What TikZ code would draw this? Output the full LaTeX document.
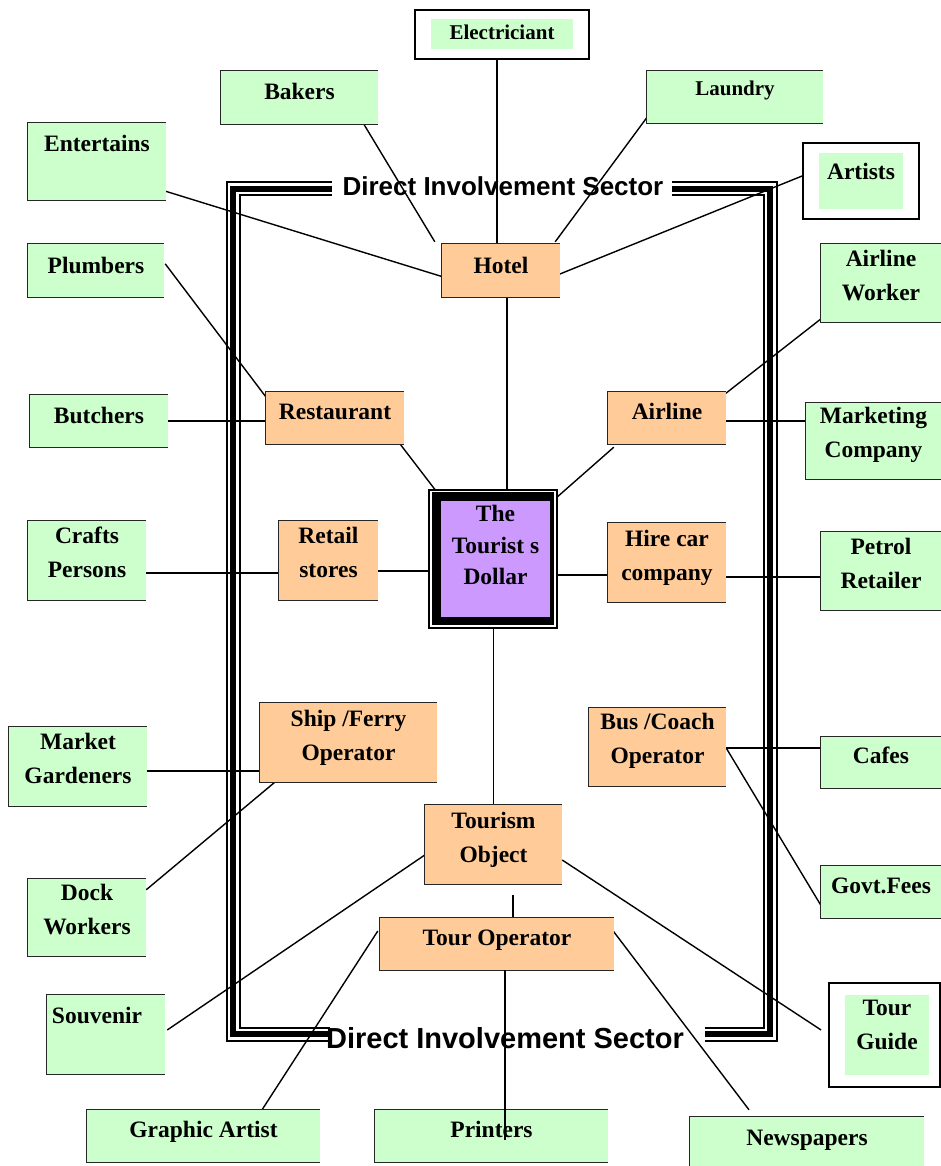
\documentclass[tikz,border=0pt]{standalone}
\usepackage{fontspec}
\setmainfont{Liberation Serif}
\newfontfamily\sectorfont{Liberation Sans}
\pgfdeclarelayer{background}
\pgfsetlayers{background,main}
\definecolor{mint}{HTML}{CCFFCC}
\definecolor{peach}{HTML}{FFCC99}
\definecolor{lilac}{HTML}{CC99FF}
% centred lines of box text, lifted by #1 pt without changing the box size
\newcommand\boxtext[2][5]{\raisebox{#1pt}[\height][\depth]{\begin{tabular}{@{}c@{}}#2\end{tabular}}}
\tikzset{
  sz/.style 2 args={minimum width=#1pt, minimum height=#2pt},
  boxfont/.style={font=\fontsize{23.5}{34}\selectfont\bfseries},
  greenbox/.style={fill=mint, inner sep=0pt, boxfont},
  orangebox/.style={fill=peach, inner sep=0pt, boxfont},
  framebox/.style={draw=black, line width=1.8pt, fill=white, inner sep=0pt},
  rim/.style={draw=black!85, line width=1.2pt},
  conn/.style={draw=black, line width=1.4pt},
  sector/.style={inner sep=0pt, font=\sectorfont\bfseries},
  triple/.style={draw=black, line width=15pt, line join=miter,
    postaction={draw=white, line width=11pt, line join=miter},
    postaction={draw=black, line width=6pt, line join=miter}},
}
\begin{document}
\begin{tikzpicture}[x=1pt, y=-1pt]
\useasboundingbox (0,0) rectangle (941,1166);

% ---- outer ring of suppliers ----
\node[framebox, sz={174}{49}] (elec-frame) at (502,34.5) {};
\node[greenbox, sz={142}{30}, font=\fontsize{21}{30}\selectfont\bfseries] (elec) at (502,34) {\boxtext[0]{Electriciant}};
\node[greenbox, sz={157}{53}] (bakers) at (299.5,97.5) {\boxtext[4.5]{Bakers}};
\node[greenbox, sz={176}{52}, font=\fontsize{21}{30}\selectfont\bfseries] (laundry) at (735,97) {\boxtext[7]{Laundry}};
\node[greenbox, sz={138}{77}] (entert) at (97,161.5) {\boxtext[16.5]{Entertains}};
\node[framebox, sz={116}{76}] (art-frame) at (861,181) {};
\node[greenbox, sz={84}{56}] (art) at (861,181) {\boxtext[8]{Artists}};
\node[greenbox, sz={136}{53}] (plumb) at (96,270.5) {\boxtext[3.5]{Plumbers}};
\node[greenbox, sz={120}{78}] (airw) at (881,283) {\boxtext[6]{Airline\\Worker}};
\node[greenbox, sz={138}{52}] (butch) at (99,421) {\boxtext[4]{Butchers}};
\node[greenbox, sz={135}{76}] (mkt) at (873.5,441) {\boxtext[7]{Marketing\\Company}};
\node[greenbox, sz={118}{79}] (crafts) at (87,560.5) {\boxtext[6.5]{Crafts\\Persons}};
\node[greenbox, sz={120}{78}] (petrol) at (881,571) {\boxtext[6.5]{Petrol\\Retailer}};
\node[greenbox, sz={138}{79}] (mgard) at (78,766.5) {\boxtext[6.5]{Market\\Gardeners}};
\node[greenbox, sz={120}{51}] (cafes) at (881,762.5) {\boxtext[5.5]{Cafes}};
\node[greenbox, sz={120}{52}] (govt) at (881,892) {\boxtext[5]{Govt.Fees}};
\node[greenbox, sz={118}{77}] (dock) at (87,917.5) {\boxtext[6.5]{Dock\\Workers}};
\node[greenbox, sz={118}{79}] (souv) at (106,1034.5) {\boxtext[17.5]{\hspace*{-18pt}Souvenir}};
\node[framebox, sz={111}{104}] (tg-frame) at (884.5,1035) {};
\node[greenbox, sz={84}{80}] (tg) at (887,1035) {\boxtext[9]{Tour\\Guide}};
\node[greenbox, sz={233}{52}] (graph) at (203.5,1136) {\boxtext[5]{Graphic Artist}};
\node[greenbox, sz={233}{52}] (print) at (491.5,1136) {\boxtext[5]{Printers}};
\node[greenbox, sz={234}{52}] (news) at (807,1143) {\boxtext[4]{Newspapers}};

% ---- direct involvement sector ----
\node[orangebox, sz={118}{53}] (hotel) at (501,270.5) {\boxtext[3.5]{Hotel}};
\node[orangebox, sz={138}{52}] (rest) at (335,418) {\boxtext[5]{Restaurant}};
\node[orangebox, sz={118}{52}] (airline) at (667,418) {\boxtext[5]{Airline}};
\node[orangebox, sz={99}{79}] (retail) at (328.5,560.5) {\boxtext[6.5]{Retail\\stores}};
\node[orangebox, sz={118}{79}] (hire) at (667,562.5) {\boxtext[5.5]{Hire car\\company}};
\node[orangebox, sz={177}{79}] (ship) at (348.5,742.5) {\boxtext[6]{Ship /Ferry\\Operator}};
\node[orangebox, sz={137}{78}] (bus) at (657.5,747) {\boxtext[7]{Bus /Coach\\Operator}};
\node[orangebox, sz={137}{79}] (tobj) at (493.5,844.5) {\boxtext[6]{Tourism\\Object}};
\node[orangebox, sz={234}{52}] (tourop) at (497,944) {\boxtext[5]{Tour Operator}};

% ---- centre ----
\node[draw=black, line width=1.2pt, fill=white, sz={128}{138}] (dollar) at (493,559) {};
\fill[black] ([shift={(4,3)}]dollar.north west) rectangle ([shift={(-4,-4)}]dollar.south east);
\node[fill=lilac, inner sep=0pt, sz={109}{116}, font=\fontsize{23.5}{31.5}\selectfont\bfseries]
  (dollar-in) at (495.5,559) {\boxtext[12]{The\\Tourist s\\Dollar}};

% three-sided rims of the plain boxes
\foreach \n in {bakers,laundry,entert,plumb,airw,butch,mkt,crafts,petrol,mgard,cafes,govt,dock,souv,graph,print,news,hotel,rest,airline,retail,hire,ship,bus,tobj,tourop}
  \draw[rim] (\n.north east) -- (\n.north west) -- (\n.south west) -- (\n.south east);

% ---- sector frame labels ----
\node[sector, font=\sectorfont\bfseries\fontsize{26}{30}\selectfont] (sector-top) at (503,186) {Direct Involvement Sector};
\node[sector, font=\sectorfont\bfseries\fontsize{29}{33}\selectfont] (sector-bottom) at (505,1038) {Direct Involvement Sector};

\begin{pgfonlayer}{background}
  \fill[white] (0,0) rectangle (941,1166);
  % triple-line frame of the sector
  \draw[triple] (332,189) -- (233,189) -- (233,1034) -- (330,1034);
  \draw[triple] (672,189) -- (770,189) -- (770,1034) -- (705,1034);

  % connectors
  \draw[conn] ([xshift=-5pt]elec-frame.south) -- ([shift={(-4,0)}]hotel.north);
  \draw[conn] ([shift={(-21,-11)}]bakers.south east) -- ([shift={(-7,-2)}]hotel.north west);
  \draw[conn] ([shift={(4,-11)}]laundry.south west) -- ([shift={(-5,-2)}]hotel.north east);
  \draw[conn] ([shift={(-4,-10)}]entert.south east) -- ([shift={(0,6)}]hotel.west);
  \draw[conn] ([shift={(0,-5)}]art-frame.west) -- ([shift={(-4,5)}]hotel.east);
  \draw[conn] ([shift={(6,0)}]hotel.south) -- ([shift={(14,0)}]dollar.north);
  \draw[conn] ([shift={(1,20)}]plumb.north east) -- ([shift={(0,5)}]rest.north west);
  \draw[conn] (butch.east) -- ([shift={(0,3)}]rest.west);
  \draw[conn] ([shift={(-4,0)}]rest.south east) -- ([shift={(8,2)}]dollar.north west);
  \draw[conn] ([shift={(-1,2)}]airline.north east) -- ([shift={(1,-4)}]airw.south west);
  \draw[conn] ([shift={(0,3)}]airline.east) -- ([shift={(0,-20)}]mkt.west);
  \draw[conn] ([shift={(6,3)}]airline.south west) -- ([shift={(-2,9)}]dollar.north east);
  \draw[conn] ([shift={(0,12.5)}]crafts.east) -- ([shift={(0,12.5)}]retail.west);
  \draw[conn] ([shift={(0,10.5)}]retail.east) -- ([shift={(4,12)}]dollar.west);
  \draw[conn] ([shift={(-4,16)}]dollar.east) -- ([shift={(0,12.5)}]hire.west);
  \draw[conn] ([shift={(0,14.5)}]hire.east) -- ([shift={(0,6)}]petrol.west);
  \draw[conn] ([xshift=0.5pt]dollar.south) -- (tobj.north);
  \draw[conn] ([shift={(0,4.5)}]mgard.east) -- ([shift={(0,28.5)}]ship.west);
  \draw[conn] ([shift={(15,0)}]ship.south west) -- ([shift={(0,11)}]dock.north east);
  \draw[conn] ([shift={(0,1)}]bus.east) -- ([shift={(0,-14.5)}]cafes.west);
  \draw[conn] ([shift={(0,1)}]bus.east) -- ([shift={(0,-13)}]govt.south west);
  \draw[conn] ([shift={(0,10.5)}]tobj.west) -- ([shift={(2,-4.5)}]souv.east);
  \draw[conn] ([shift={(0,15.5)}]tobj.east) -- ([shift={(-7,-5)}]tg-frame.west);
  \draw[conn] ([shift={(19.5,11)}]tobj.south) -- ([shift={(16,0)}]tourop.north);
  \draw[conn] ([shift={(-2,-13)}]tourop.west) -- ([shift={(58.5,0)}]graph.north);
  \draw[conn] ([shift={(-1,-13)}]tourop.east) -- ([shift={(-58,-7)}]news.north);
\end{pgfonlayer}

% this connector runs over the Printers box
\draw[conn] ([shift={(8,0)}]tourop.south) -- ([shift={(13.5,4)}]print.center);
\end{tikzpicture}
\end{document}
